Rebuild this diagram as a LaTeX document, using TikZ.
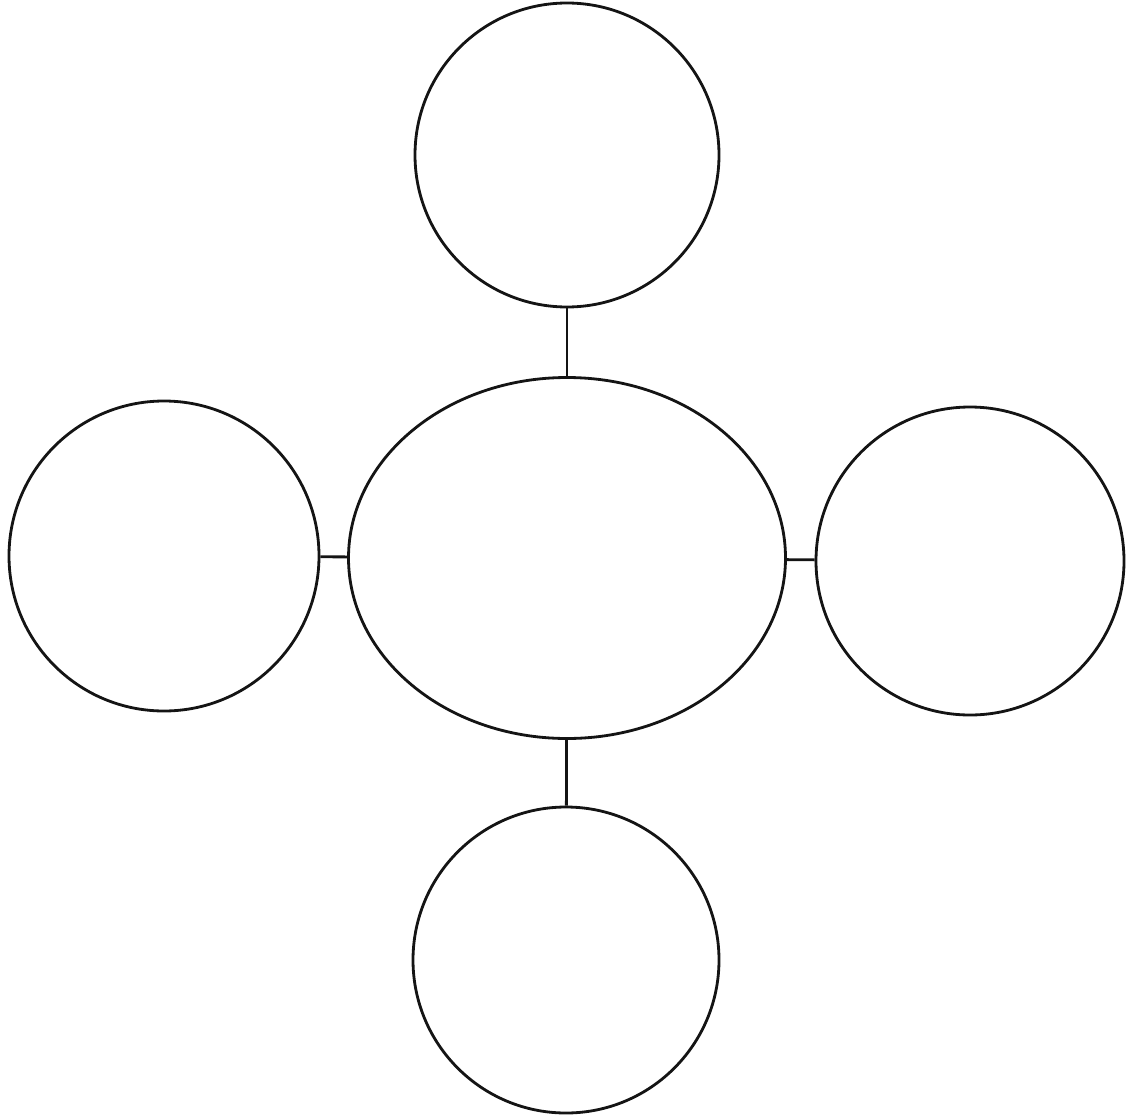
\documentclass[tikz,border=0pt]{standalone}
\usetikzlibrary{shapes.geometric}
\definecolor{ink}{RGB}{20,20,20}
\tikzset{
  bubble/.style={circle,draw=ink,line width=0.8pt,inner sep=0pt,minimum size=#1},
  bubble/.default=3.08cm,
  core/.style={ellipse,draw=ink,line width=0.8pt,inner sep=0pt,
    minimum width=4.37cm,minimum height=3.61cm},
  link/.style={draw=ink,line width=0.8pt},
}
\begin{document}
\begin{tikzpicture}
  \useasboundingbox (0,0) rectangle (11.26,11.16);
  \node[core] (hub) at (5.67,5.58) {};
  \node[bubble=3.04cm] (top) at (5.67,9.61) {};
  \node[bubble=3.10cm] (left) at (1.64,5.60) {};
  \node[bubble=3.08cm] (right) at (9.70,5.55) {};
  \node[bubble=3.06cm] (bottom) at (5.66,1.56) {};
  % spokes
  \draw[link] (top) -- (hub);
  \draw[link] (left) -- (hub);
  \draw[link] (right) -- (hub);
  \draw[link] (bottom) -- (hub);
\end{tikzpicture}
\end{document}
